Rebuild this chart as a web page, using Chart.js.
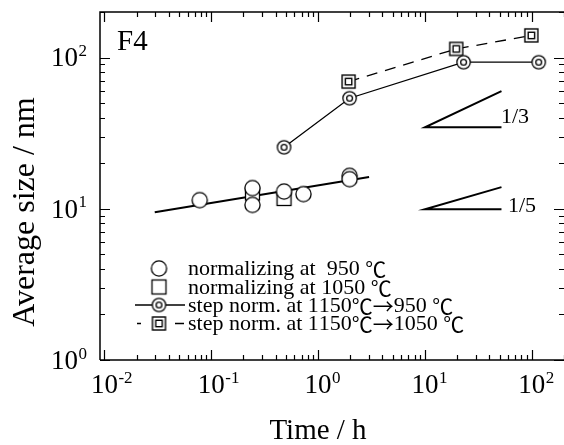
<!DOCTYPE html>
<html><head><meta charset="utf-8">
<script src="https://cdn.jsdelivr.net/npm/chart.js@4"></script>
<style>html,body{margin:0;padding:0;background:#fff}#wrap{width:564px;height:445px}</style>
</head><body><div id="wrap"><canvas id="c" width="564" height="445"></canvas></div>
<script>
// ---- data ----
const xTickExps = [-2, -1, 0, 1, 2];
const yTickExps = [0, 1, 2];
const norm950Time = [0.078, 0.243, 0.243, 0.48, 0.73, 1.97, 1.97];
const norm950Size = [11.4, 13.7, 10.6, 13.0, 12.5, 16.5, 15.7];
const norm1050Time = [0.243, 0.48];
const norm1050Size = [12.7, 11.7];
const fitTime = [0.0296, 3.0];
const fitSize = [9.48, 16.2];
const step950Time = [0.48, 1.97, 23, 116];
const step950Size = [25.5, 53.8, 93.1, 93.1];
const step1050Time = [1.93, 19.6, 99];
const step1050Size = [69.3, 114, 140];
const tri3Time = [52, 10, 52];
const tri3Size = [59.9, 34.6, 34.6];
const tri5Time = [52, 10, 52];
const tri5Size = [13.9, 9.93, 9.93];
const legendLabels = ['normalizing at  950 ℃', 'normalizing at 1050 ℃', 'step norm. at 1150℃→950 ℃', 'step norm. at 1150℃→1050 ℃'];
const panelLabel = 'F4';
const slopeLabels = ['1/3', '1/5'];
const xTitle = 'Time / h';
const yTitle = 'Average size / nm';

const pts = (xs, ys) => xs.map((x, i) => ({x: x, y: ys[i]}));
const SERIF = '"Liberation Serif", "Noto Sans CJK JP", serif';
const CJK = '"Noto Sans CJK JP", sans-serif';

function mk(size, draw) {
  const c = document.createElement('canvas');
  c.width = size; c.height = size;
  const g = c.getContext('2d');
  draw(g, size / 2);
  return c;
}
const dblCircle = mk(17, (g, m) => {
  g.lineWidth = 1.3; g.strokeStyle = '#000'; g.fillStyle = '#fff';
  g.beginPath(); g.arc(m, m, 6.7, 0, Math.PI * 2); g.fill(); g.stroke();
  g.beginPath(); g.arc(m, m, 2.9, 0, Math.PI * 2); g.stroke();
});
const dblSquare = mk(17, (g, m) => {
  g.lineWidth = 1.4; g.strokeStyle = '#000'; g.fillStyle = '#fff';
  g.fillRect(m - 6.5, m - 6.5, 13, 13); g.strokeRect(m - 6.5, m - 6.5, 13, 13);
  g.strokeRect(m - 3.2, m - 3.2, 6.4, 6.4);
});
const openCircle = mk(19, (g, m) => {
  g.lineWidth = 1.3; g.strokeStyle = '#000'; g.fillStyle = '#fff';
  g.beginPath(); g.arc(m, m, 7.6, 0, Math.PI * 2); g.fill(); g.stroke();
});
const openSquare = mk(19, (g, m) => {
  g.lineWidth = 1.3; g.strokeStyle = '#000'; g.fillStyle = '#fff';
  g.fillRect(m - 7, m - 7, 14, 14); g.strokeRect(m - 7, m - 7, 14, 14);
});

function drawPow(ctx, exp, cx, cy, big, small) {
  ctx.font = big + 'px ' + SERIF;
  const w = ctx.measureText('10').width;
  ctx.textBaseline = 'alphabetic'; ctx.textAlign = 'left';
  ctx.fillText('10', cx - w / 2, cy + big * 0.33);
  ctx.font = small + 'px ' + SERIF;
  ctx.fillText(String(exp), cx + w / 2 + 0.5, cy - big * 0.05);
}

// draw a legend string, symbols ℃ and → from the CJK font
function drawMixed(ctx, text, x, y, size) {
  let cx = x;
  for (const ch of text) {
    const special = (ch === '℃' || ch === '→');
    ctx.font = (special ? (size - 1) + 'px ' + CJK : size + 'px ' + SERIF);
    ctx.fillText(ch, cx, y);
    cx += ctx.measureText(ch).width;
  }
}

const decor = {
  id: 'decor',
  afterDraw(chart) {
    const ctx = chart.ctx, a = chart.chartArea;
    const xs = chart.scales.x, ys = chart.scales.y;
    ctx.save();
    ctx.strokeStyle = '#000'; ctx.fillStyle = '#000';
    // frame
    ctx.lineWidth = 1.5;
    ctx.beginPath();
    ctx.moveTo(a.left, a.bottom); ctx.lineTo(a.left, a.top); ctx.lineTo(a.right + 2, a.top);
    ctx.moveTo(a.left, a.bottom); ctx.lineTo(a.right + 2, a.bottom);
    ctx.stroke();
    // inward ticks
    ctx.lineWidth = 1.2;
    ctx.beginPath();
    for (let e = -3; e <= 3; e++) {
      for (let k = 1; k <= 9; k++) {
        const v = k * Math.pow(10, e);
        const len = k === 1 ? 10 : 5;
        if (v >= xs.min && v <= xs.max) {
          const px = Math.round(xs.getPixelForValue(v)) + 0.5;
          ctx.moveTo(px, a.bottom); ctx.lineTo(px, a.bottom - len);
          ctx.moveTo(px, a.top); ctx.lineTo(px, a.top + len);
        }
        if (v >= ys.min && v <= ys.max) {
          const py = Math.round(ys.getPixelForValue(v)) + 0.5;
          ctx.moveTo(a.left, py); ctx.lineTo(a.left + len, py);
          ctx.moveTo(a.right, py); ctx.lineTo(a.right - len, py);
        }
      }
    }
    ctx.stroke();
    // tick labels
    xTickExps.forEach(e => {
      const px = xs.getPixelForValue(Math.pow(10, e));
      drawPow(ctx, e, px, a.bottom + 24, 27, 17);
    });
    yTickExps.forEach(e => {
      const py = ys.getPixelForValue(Math.pow(10, e));
      ctx.font = '27px ' + SERIF;
      const w = ctx.measureText('10').width;
      drawPow(ctx, e, a.left - 22 - w / 2, py, 27, 17);
    });
    // titles
    ctx.font = '29px ' + SERIF;
    ctx.textAlign = 'center'; ctx.textBaseline = 'alphabetic';
    ctx.fillText(xTitle, 318, 439);
    ctx.save();
    ctx.font = '32px ' + SERIF;
    ctx.translate(34, 212); ctx.rotate(-Math.PI / 2);
    ctx.fillText(yTitle, 0, 0);
    ctx.restore();
    // panel + slope labels
    ctx.textAlign = 'left';
    ctx.font = '29px ' + SERIF;
    ctx.fillText(panelLabel, 117, 50);
    ctx.font = '22px ' + SERIF;
    ctx.fillText(slopeLabels[0], 501, 123);
    ctx.fillText(slopeLabels[1], 508, 212);
    // legend
    const rows = [268.5, 287, 305, 323.5];
    const sx = 159, tx = 188;
    ctx.lineWidth = 1.3;
    ctx.beginPath(); ctx.moveTo(135, rows[2]); ctx.lineTo(185, rows[2]); ctx.stroke();
    ctx.beginPath(); ctx.moveTo(137, rows[3]); ctx.lineTo(141, rows[3]);
    ctx.moveTo(175, rows[3]); ctx.lineTo(184, rows[3]); ctx.stroke();
    [openCircle, openSquare, dblCircle, dblSquare].forEach((img, i) => {
      ctx.drawImage(img, sx - img.width / 2, rows[i] - img.height / 2);
    });
    ctx.textBaseline = 'middle';
    legendLabels.forEach((t, i) => drawMixed(ctx, t, tx, rows[i] + 1, 22));
    ctx.restore();
  }
};

new Chart(document.getElementById('c'), {
  type: 'scatter',
  data: {
    datasets: [
      {data: pts(norm950Time, norm950Size), pointStyle: openCircle, pointRadius: 8, order: 1},
      {data: pts(step950Time, step950Size), showLine: true, borderColor: '#000', borderWidth: 1.3, pointStyle: dblCircle, pointRadius: 8, order: 2},
      {data: pts(step1050Time, step1050Size), showLine: true, borderColor: '#000', borderWidth: 1.3, borderDash: [11, 8], pointStyle: dblSquare, pointRadius: 8, order: 3},
      {data: pts(norm1050Time, norm1050Size), pointStyle: openSquare, pointRadius: 8, order: 4},
      {data: pts(fitTime, fitSize), showLine: true, borderColor: '#000', borderWidth: 2, pointRadius: 0, order: 5},
      {data: pts(tri3Time, tri3Size), showLine: true, borderColor: '#000', borderWidth: 2, pointRadius: 0, order: 6},
      {data: pts(tri5Time, tri5Size), showLine: true, borderColor: '#000', borderWidth: 2, pointRadius: 0, order: 7}
    ]
  },
  options: {
    responsive: false, animation: false, events: [],
    layout: {autoPadding: false, padding: {top: 12, left: 0, right: 0, bottom: 0}},
    plugins: {legend: {display: false}, tooltip: {enabled: false}},
    scales: {
      x: {type: 'logarithmic', min: 0.0091, max: 200, ticks: {display: false}, grid: {display: false}, border: {display: false}, afterFit(s) { s.height = 85; }},
      y: {type: 'logarithmic', min: 1, max: 200, ticks: {display: false}, grid: {display: false}, border: {display: false}, afterFit(s) { s.width = 100; }}
    }
  },
  plugins: [decor]
});
</script></body></html>
